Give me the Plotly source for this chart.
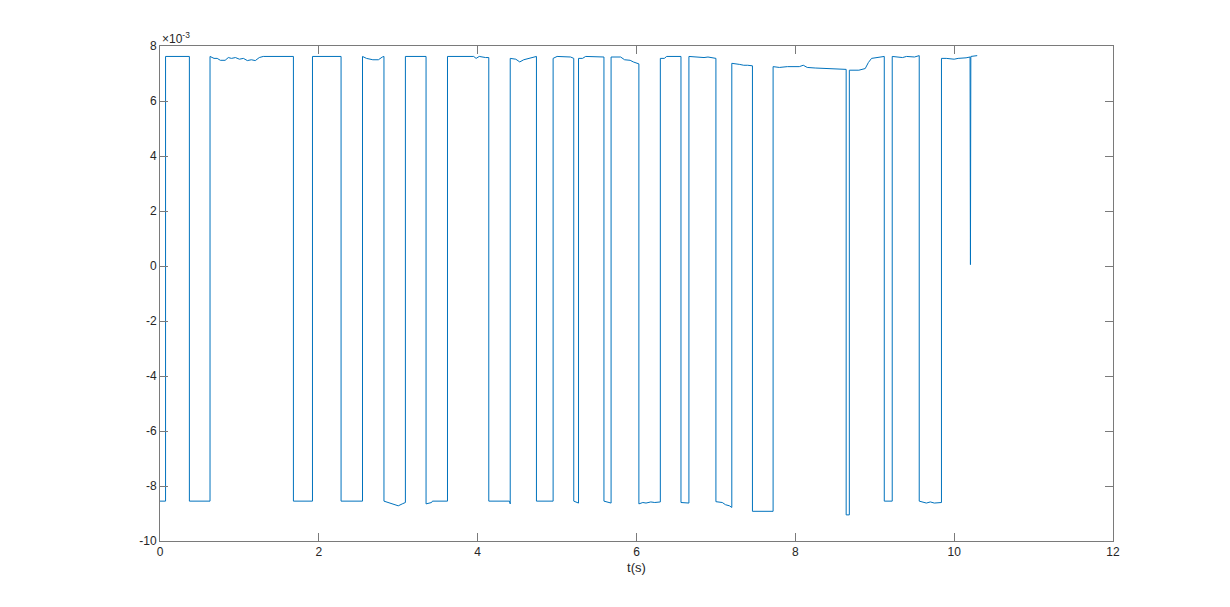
import plotly.graph_objects as go

# time (s) of each vertex of the trace
t_s = [0, 0.07, 0.07, 0.37, 0.37, 0.63, 0.63, 0.68, 0.72, 0.76, 0.82, 0.86, 0.90, 0.95, 1.00, 1.05, 1.10, 1.15, 1.20, 1.25, 1.30, 1.68,
       1.68, 1.92, 1.92, 2.28, 2.28, 2.55, 2.55, 2.60, 2.68, 2.75, 2.80, 2.82,
       2.82, 2.88, 2.95, 3.00, 3.05, 3.09, 3.09, 3.35, 3.35, 3.42, 3.43, 3.62,
       3.62, 3.95, 3.98, 4.00, 4.02, 4.10, 4.14, 4.14, 4.40, 4.41,
       4.41, 4.48, 4.53, 4.58, 4.65, 4.70, 4.74, 4.74, 4.95, 4.95, 5.00, 5.17, 5.21,
       5.21, 5.27, 5.27, 5.32, 5.36, 5.50, 5.59, 5.59, 5.68,
       5.68, 5.80, 5.85, 5.92, 5.96, 6.03, 6.03, 6.08, 6.12, 6.18, 6.23, 6.30,
       6.30, 6.35, 6.38, 6.56, 6.56, 6.66, 6.66, 6.85, 6.90, 7.00,
       7.00, 7.08, 7.12, 7.17, 7.20, 7.20, 7.30, 7.35, 7.40, 7.46, 7.46, 7.72,
       7.72, 7.80, 7.90, 8.05, 8.10, 8.15, 8.25, 8.40, 8.50, 8.64, 8.64, 8.68,
       8.68, 8.80, 8.88, 8.92, 8.96, 9.05, 9.12, 9.12, 9.22,
       9.22, 9.35, 9.40, 9.50, 9.56, 9.56, 9.65, 9.70, 9.75, 9.84,
       9.84, 9.90, 10.00, 10.05, 10.15, 10.20, 10.205, 10.21, 10.29]

# signal value, in units of 1e-3
signal = [-8.55, -8.55, 7.62, 7.62, -8.55, -8.55, 7.62, 7.55, 7.55, 7.48, 7.48, 7.58, 7.55, 7.58, 7.52, 7.55, 7.47, 7.50, 7.47, 7.58, 7.62, 7.62,
          -8.55, -8.55, 7.62, 7.62, -8.55, -8.55, 7.62, 7.55, 7.50, 7.50, 7.60, 7.62,
          -8.55, -8.60, -8.68, -8.72, -8.65, -8.60, 7.62, 7.62, -8.65, -8.60, -8.55, -8.55,
          7.62, 7.62, 7.55, 7.58, 7.62, 7.58, 7.58, -8.55, -8.55, -8.65,
          7.55, 7.52, 7.42, 7.50, 7.55, 7.58, 7.62, -8.55, -8.55, 7.55, 7.62, 7.60, 7.55,
          -8.55, -8.62, 7.55, 7.55, 7.62, 7.62, 7.60, -8.55, -8.62,
          7.60, 7.60, 7.50, 7.48, 7.42, 7.35, -8.65, -8.60, -8.62, -8.58, -8.60, -8.58,
          7.55, 7.55, 7.62, 7.62, -8.60, -8.62, 7.62, 7.58, 7.60, 7.55,
          -8.57, -8.60, -8.68, -8.72, -8.78, 7.37, 7.33, 7.30, 7.30, 7.28, -8.92, -8.92,
          7.25, 7.22, 7.25, 7.25, 7.30, 7.22, 7.20, 7.18, 7.15, 7.15, -9.05, -9.05,
          7.12, 7.12, 7.18, 7.40, 7.55, 7.58, 7.62, -8.55, -8.55,
          7.62, 7.58, 7.62, 7.60, 7.65, -8.55, -8.62, -8.58, -8.62, -8.60,
          7.55, 7.55, 7.52, 7.55, 7.57, 7.60, 0.05, 7.62, 7.65]

x_ticks = [0, 2, 4, 6, 8, 10, 12]
y_ticks = [-10, -8, -6, -4, -2, 0, 2, 4, 6, 8]

axis_color = "#262626"
line_gray = "#7a7a7a"
font_family = "Liberation Sans, Arial, sans-serif"

fig = go.Figure()
fig.add_trace(go.Scatter(x=t_s, y=signal, mode="lines",
                         line=dict(color="#0072BD", width=1), showlegend=False,
                         hoverinfo="x+y"))

axis_common = dict(showgrid=False, zeroline=False, showline=True, linecolor=line_gray,
                   linewidth=1, mirror="ticks", ticks="inside", ticklen=8,
                   tickcolor=line_gray, tickwidth=1,
                   tickfont=dict(family=font_family, size=12, color=axis_color))

fig.update_xaxes(range=[0, 12], tickvals=x_ticks, ticktext=[str(v) for v in x_ticks],
                 title=dict(text="t(s)", font=dict(family=font_family, size=13, color=axis_color), standoff=4),
                 **axis_common)
fig.update_yaxes(range=[-10, 8], tickvals=y_ticks, ticktext=[str(v) for v in y_ticks],
                 **axis_common)

fig.add_annotation(text="×10<sup>-3</sup>", xref="paper", yref="paper", x=0, y=1,
                   xanchor="left", yanchor="bottom", showarrow=False, xshift=0, yshift=-2,
                   font=dict(family=font_family, size=12, color=axis_color))

fig.update_layout(width=1230, height=607, plot_bgcolor="white", paper_bgcolor="white",
                  margin=dict(l=152, r=125, t=38, b=74))

fig.write_html("out.html")
